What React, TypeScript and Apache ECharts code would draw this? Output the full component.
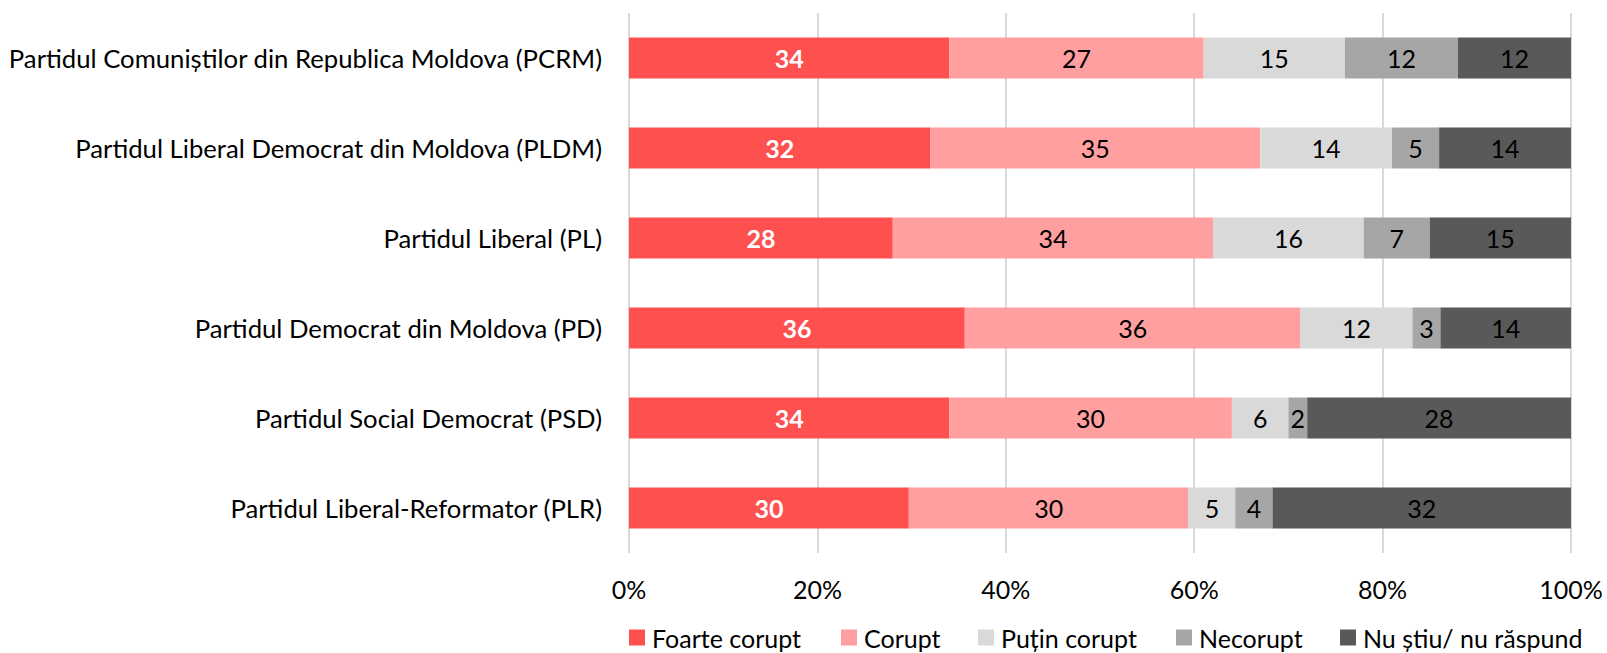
import React, { useEffect, useRef } from "react";
import * as echarts from "echarts";

const categories = [
  "Partidul Comuniștilor din Republica Moldova (PCRM)",
  "Partidul Liberal Democrat din Moldova (PLDM)",
  "Partidul Liberal (PL)",
  "Partidul Democrat din Moldova (PD)",
  "Partidul Social Democrat (PSD)",
  "Partidul Liberal-Reformator (PLR)",
];

const seriesNames = ["Foarte corupt", "Corupt", "Puțin corupt", "Necorupt", "Nu știu/ nu răspund"];

const foarteCorupt = [34, 32, 28, 36, 34, 30];
const corupt = [27, 35, 34, 36, 30, 30];
const putinCorupt = [15, 14, 16, 12, 6, 5];
const necorupt = [12, 5, 7, 3, 2, 4];
const nuStiu = [12, 14, 15, 14, 28, 32];

const xTicks = [0, 20, 40, 60, 80, 100];

const colors = ["#FF5050", "#FF9F9F", "#D9D9D9", "#A6A6A6", "#595959"];

const FONT = "Lato";

export default function App() {
  const ref = useRef<HTMLDivElement>(null);
  useEffect(() => {
    if (!ref.current) return;
    const chart = echarts.init(ref.current, null, { renderer: "svg" });
    const all = [foarteCorupt, corupt, putinCorupt, necorupt, nuStiu];
    const totals = categories.map((_, i) => all.reduce((s, arr) => s + arr[i], 0));
    const legendLefts = [629, 841, 978, 1176, 1340];
    chart.setOption({
      animation: false,
      textStyle: { fontFamily: FONT },
      grid: { left: 629, right: 36, top: 13, bottom: 100, containLabel: false },
      xAxis: {
        type: "value",
        min: xTicks[0],
        max: xTicks[xTicks.length - 1],
        interval: 20,
        axisLine: { show: false },
        axisTick: { show: false },
        axisLabel: { formatter: "{value}%", color: "#000", fontSize: 25, fontFamily: FONT, margin: 23 },
        splitLine: { show: true, lineStyle: { color: "#D9D9D9", width: 2 } },
      },
      yAxis: {
        type: "category",
        data: categories,
        inverse: true,
        axisLine: { show: false },
        axisTick: { show: false },
        axisLabel: { color: "#000", fontSize: 25.7, fontFamily: FONT, margin: 27 },
      },
      legend: seriesNames.map((n, i) => ({
        data: [n],
        left: legendLefts[i],
        top: 625,
        itemWidth: 16,
        itemHeight: 16,
        itemGap: 0,
        padding: 0,
        icon: "rect",
        textStyle: { color: "#000", fontSize: 25, fontFamily: FONT, padding: [0, 0, 0, 2] },
      })),
      series: all.map((arr, si) => ({
        name: seriesNames[si],
        type: "bar",
        stack: "total",
        barWidth: 41,
        itemStyle: { color: colors[si] },
        data: arr.map((v, i) => ({ value: (v / totals[i]) * 100, raw: v })),
        label: {
          show: true,
          position: "inside",
          formatter: (p: any) => String(p.data.raw),
          color: si === 0 ? "#fff" : "#000",
          fontWeight: si === 0 ? "bold" : "normal",
          fontSize: 25,
          fontFamily: FONT,
        },
      })),
    });
    return () => chart.dispose();
  }, []);
  return <div ref={ref} style={{ width: 1607, height: 653, position: "absolute", left: 0, top: 0 }} />;
}
